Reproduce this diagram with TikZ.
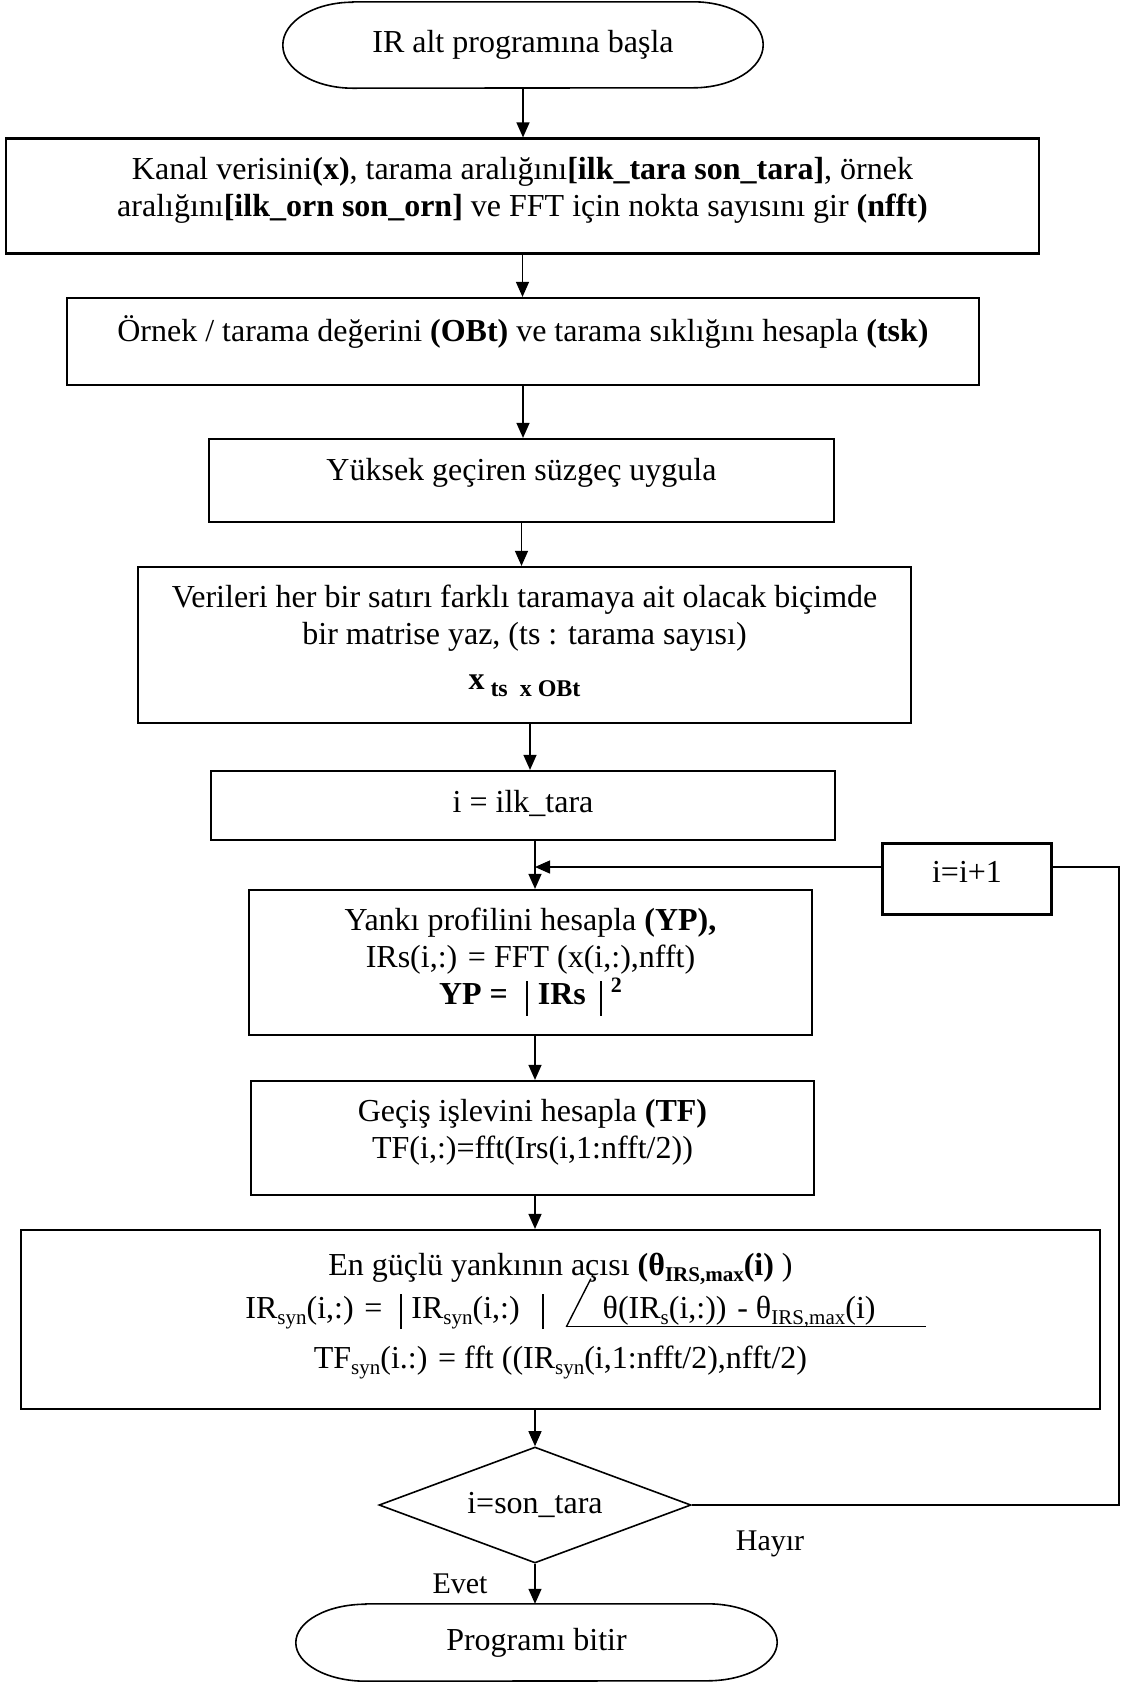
\documentclass[tikz,border=0pt]{standalone}
\usepackage{fontspec}
\setmainfont{Liberation Serif}
\usepackage{graphicx}
\usetikzlibrary{shapes.geometric,arrows.meta}
\newcommand\dn[1]{\rule[-#1]{0pt}{#1}}
\newcommand\tbar{\rule[-11pt]{2pt}{35pt}}
\newcommand\sbs[1]{\raisebox{-6pt}{\fontsize{21}{21}\selectfont #1}}
\newcommand\angl[1]{\rlap{\raisebox{-9pt}{\rule{360pt}{1.6pt}}}\rlap{\smash{\raisebox{-9pt}{\rotatebox[origin=bl]{63}{\rule{54pt}{1.4pt}}}}}\hspace{37pt}#1\hspace{48pt}}
\begin{document}
\begin{tikzpicture}[x=1pt,y=-1pt,
  every node/.style={font=\fontsize{32}{37}\selectfont},
  box/.style={draw, line width=2.2pt, rectangle, inner sep=2pt, align=center},
  term/.style={rectangle, inner sep=0pt},
  termline/.style={line width=1.6pt},
  dec/.style={diamond, draw, line width=1.6pt, aspect=2.7, minimum width=312pt, minimum height=116pt, inner sep=0pt},
  lbl/.style={font=\fontsize{30}{36}\selectfont, inner sep=0pt},
  arr/.style={line width=1.3pt, -{Triangle[length=15pt,width=13pt]}},
  ln/.style={line width=1.5pt}]
\fill[white] (0,0) rectangle (1123,1682);
\useasboundingbox (0,0) rectangle (1123,1682);

% terminals
\node[term, minimum width=480pt, minimum height=86pt] (s) at (523,45) {IR alt programına başla};
\draw[termline] ([xshift=70pt]s.north west) -- ([xshift=-70pt]s.north east)
  arc[start angle=90,end angle=-90,x radius=70pt,y radius=43pt]
  -- ([xshift=70pt]s.south west)
  arc[start angle=270,end angle=90,x radius=70pt,y radius=43pt] -- cycle;

\node[box, minimum width=1033pt, minimum height=115pt] (b1) at (522.5,196)
 {Kanal verisini\textbf{(x)}, tarama aralığını\textbf{[ilk\_tara son\_tara]}, örnek\\
  aralığını\textbf{[ilk\_orn son\_orn]} ve FFT için nokta sayısını gir \textbf{(nfft)}\dn{17.5pt}};

\node[box, minimum width=912pt, minimum height=87pt] (b2) at (523,341.5)
 {Örnek / tarama değerini \textbf{(OBt)} ve tarama sıklığını hesapla \textbf{(tsk)}\dn{26pt}};

\node[box, minimum width=625pt, minimum height=83pt] (b3) at (521.5,480.5)
 {Yüksek geçiren süzgeç uygula\dn{23pt}};

\node[box, minimum width=773pt, minimum height=156pt] (b4) at (524.5,645)
 {Verileri her bir satırı farklı taramaya ait olacak biçimde\\
  bir matrise yaz, (ts : tarama sayısı)\\[8pt]
  {\fontsize{32}{32}\selectfont\bfseries x}\raisebox{-7pt}{\fontsize{24}{24}\selectfont\bfseries\ ts\ \ x OBt}\dn{16pt}};

\node[box, minimum width=624pt, minimum height=69pt] (b5) at (523,805.5)
 {i = ilk\_tara\dn{9pt}};

\node[box, minimum width=563pt, minimum height=145pt] (b6) at (530.5,962.5)
 {Yankı profilini hesapla \textbf{(YP),}\\
  IRs(i,:) = FFT (x(i,:),nfft)\\
  \textbf{YP =}\hspace{18pt}\tbar\hspace{10pt}\textbf{IRs}\hspace{14pt}\tbar\hspace{9pt}\raisebox{12pt}{\fontsize{22}{22}\selectfont\bfseries 2}\dn{12pt}};

\node[box, minimum width=169pt, minimum height=71pt] (inc) at (967,879)
 {i=i+1\dn{14pt}};

\node[box, minimum width=563pt, minimum height=114pt] (b7) at (532.5,1138)
 {Geçiş işlevini hesapla \textbf{(TF)}\\
  TF(i,:)=fft(Irs(i,1:nfft/2))\dn{18pt}};

\node[box, minimum width=1079pt, minimum height=179pt] (b8) at (560.5,1319.5)
 {En güçlü yankının açısı \textbf{(θ\sbs{IRS,max}(i)} )\hspace{18pt}\\[6pt]
  IR\sbs{syn}(i,:) =\hspace{18pt}\tbar\hspace{9pt}IR\sbs{syn}(i,:)\hspace{22pt}\tbar\hspace{22pt}\angl{θ(IR\sbs{s}(i,:)) - θ\sbs{IRS,max}(i)}\hspace{30pt}\\[13pt]
  TF\sbs{syn}(i.:) = fft ((IR\sbs{syn}(i,1:nfft/2),nfft/2)\dn{18pt}};

\node[dec] (d) at (535,1505) {i=son\_tara};

\node[term, minimum width=481pt, minimum height=77pt] (e) at (536.5,1642.5) {Programı bitir};
\draw[termline] ([xshift=70pt]e.north west) -- ([xshift=-70pt]e.north east)
  arc[start angle=90,end angle=-90,x radius=70pt,y radius=38.5pt]
  -- ([xshift=70pt]e.south west)
  arc[start angle=270,end angle=90,x radius=70pt,y radius=38.5pt] -- cycle;

\node[lbl, anchor=base] (ev) at (460,1593) {Evet};
\node[lbl, anchor=base] (hy) at (770,1550) {Hayır};

% connectors
\coordinate (col) at (535,0);
\coordinate (c2) at (530,0);
\coordinate (fb) at (1119,867);
\draw[arr] (s.south) -- (s.south |- b1.north);
\draw[arr] (b1.south) -- (b1.south |- b2.north);
\draw[arr] (b2.south) -- (b2.south |- b3.north);
\draw[arr] (b3.south) -- (b3.south |- b4.north);
\draw[arr] (c2 |- b4.south) -- (c2 |- b5.north);
\draw[arr] (col |- b5.south) -- (col |- b6.north);
\draw[arr] (col |- b6.south) -- (col |- b7.north);
\draw[arr] (col |- b7.south) -- (col |- b8.north);
\draw[arr] (col |- b8.south) -- (d.north);
\draw[arr] (d.south) -- (d.south |- e.north);
\draw[ln] (d.east) -- (fb |- d.east) -- (fb) -- (inc.east |- fb);
\draw[arr] (inc.west |- fb) -- (col |- fb);
\end{tikzpicture}
\end{document}
